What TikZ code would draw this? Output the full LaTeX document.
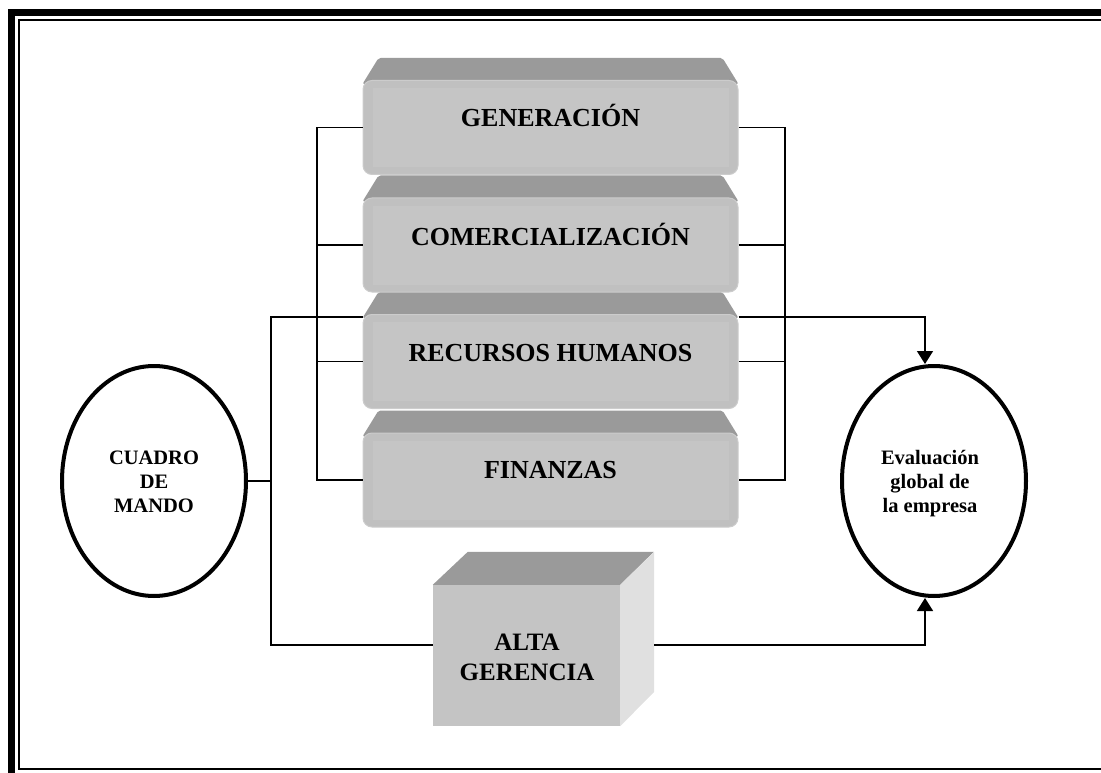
\documentclass[tikz,border=0pt]{standalone}
\usepackage{fontspec}
\setmainfont{Liberation Serif}
\usetikzlibrary{calc,arrows.meta,shapes.geometric,backgrounds}
\definecolor{bev}{HTML}{9A9A9A}
\definecolor{face}{HTML}{C0C0C0}
\definecolor{facein}{HTML}{C5C5C5}
\definecolor{faceedge}{HTML}{CCCCCC}
\definecolor{side}{HTML}{E0E0E0}
\definecolor{altaface}{HTML}{C4C4C4}
\tikzset{
  front/.style={minimum width=375pt, minimum height=94pt, inner sep=0pt,
    rounded corners=9pt, fill=face, draw=faceedge, line width=1pt},
  lbl/.style={font=\bfseries\fontsize{26}{30}\selectfont, inner sep=0pt,
    text height=17pt, text depth=0pt},
  oval/.style={ellipse, draw, line width=4pt, minimum width=184pt,
    minimum height=230pt, inner sep=0pt},
  ovaltext/.style={font=\bfseries\fontsize{20.5}{24}\selectfont, align=center, inner sep=0pt},
  conn/.style={line width=1.6pt},
  arr/.style={conn, -{Triangle[width=16pt,length=13pt]}},
}
\begin{document}
\begin{tikzpicture}[x=1pt,y=-1pt]
\useasboundingbox (0,0) rectangle (1101,773);
% frame
\draw[line width=7pt] (11.5,12.5) rectangle (1112,777);
\draw[line width=2pt] (19,20) rectangle (1106,768.5);

% stacked boxes (front faces)
\node[front] (gen) at (550.5,127.5) {};
\node[front] (com) at (550.5,245) {};
\node[front] (rh)  at (550.5,361.5) {};
\node[front] (fin) at (550.5,480) {};

\begin{scope}[on background layer]
\foreach \b in {gen,com,rh,fin}{
  \fill[bev, rounded corners=2pt] ($(\b.north west)+(0,4)$) -- ($(\b.north west)+(16,-22)$)
     -- ($(\b.north east)+(-16,-22)$) -- ($(\b.north east)+(0,4)$) -- cycle;
}
\end{scope}
\foreach \b in {gen,com,rh,fin}{
  \fill[facein] ($(\b.north west)+(10,8)$) rectangle ($(\b.south east)+(-10,-8)$);
}

\node[lbl] (genT) at ($(gen.center)+(0,-9)$) {GENERACIÓN};
\node[lbl] (comT) at ($(com.center)+(0,-8)$) {COMERCIALIZACIÓN};
\node[lbl] (rhT)  at ($(rh.center)+(0,-9)$) {RECURSOS HUMANOS};
\node[lbl] (finT) at ($(fin.center)+(0,-10)$) {FINANZAS};

% Alta gerencia cube
\node[minimum width=187pt, minimum height=141pt, inner sep=0pt, fill=altaface] (alta) at (526.5,655.5) {};
\fill[bev] (alta.north west) -- ++(35,-33) -- ++(186,0) -- (alta.north east) -- cycle;
\fill[side] (alta.north east) -- ++(34,-33) -- ++(0,140) -- (alta.south east) -- cycle;
\node[font=\bfseries\fontsize{25}{30}\selectfont, align=center, inner sep=0pt] (altaT) at (527,657) {ALTA\\GERENCIA};

% ellipses
\node[oval] (cm) at (154,481) {};
\node[ovaltext] (cmT) at (154,482) {CUADRO\\DE\\MANDO};
\node[oval] (ev) at (934,481) {};
\node[ovaltext] (evT) at (930,484) {Evaluación\\global de\\la empresa};

% buses
\coordinate (lb) at (317,0);
\coordinate (rb) at (785,0);
\coordinate (ob) at (271,0);
\draw[conn] (gen.west) -| (lb |- fin.west) -- (fin.west);
\draw[conn] (com.west) -- (com.west -| lb);
\draw[conn] (rh.west) -- (rh.west -| lb);
\draw[conn] (gen.east) -| (rb |- fin.east) -- (fin.east);
\draw[conn] (com.east) -- (com.east -| rb);
\draw[conn] (rh.east) -- (rh.east -| rb);

% outer left path
\coordinate (rhL) at ($(rh.north west)+(0,3)$);
\coordinate (rhR) at ($(rh.north east)+(0,3)$);
\coordinate (altaL) at ($(alta.west)+(0,-10.5)$);
\coordinate (altaR) at ($(alta.east)+(34,-10.5)$);
\draw[conn] (rhL) -| (ob |- altaL) -- (altaL);
\draw[conn] (cm.east) -- (cm.east -| ob);

% arrows to evaluation
\draw[arr] (rhR) -| ([xshift=-9pt]ev.north);
\draw[arr] (altaR) -| ([xshift=-9pt]ev.south);
\end{tikzpicture}
\end{document}
